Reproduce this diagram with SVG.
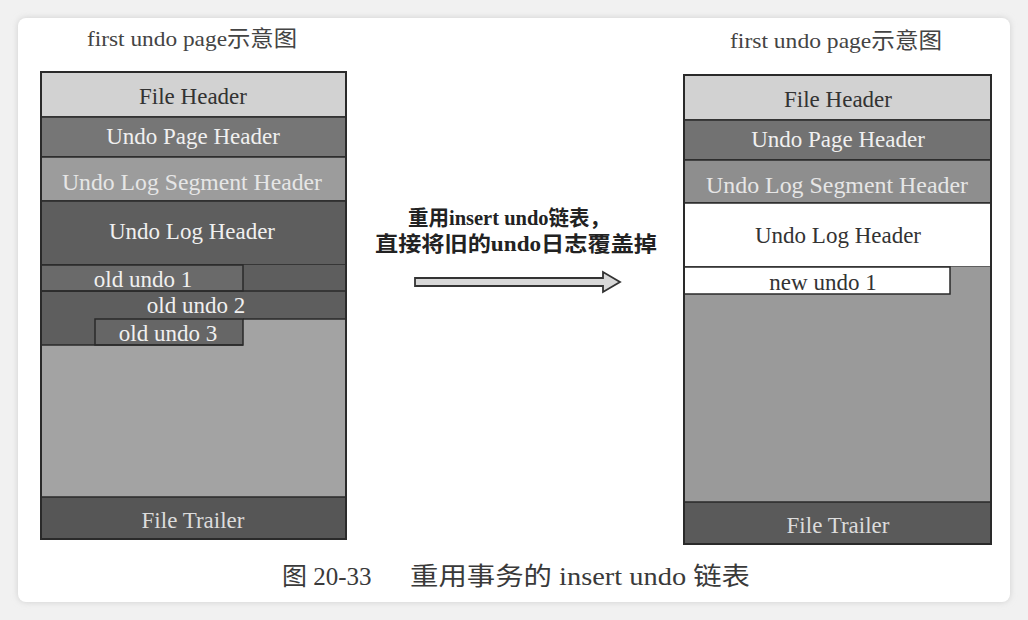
<svg xmlns="http://www.w3.org/2000/svg" width="1028" height="620" viewBox="0 0 1028 620">
<defs>
<filter id="sh" x="-5%" y="-5%" width="110%" height="110%"><feGaussianBlur stdDeviation="3"/></filter>
</defs>
<style>
.t{font-family:"Liberation Serif","Noto Sans CJK SC",serif;font-size:23px;text-anchor:middle}
.ttl{font-family:"Liberation Serif","Noto Sans CJK SC",serif;font-size:22px;fill:#444}
.cell{stroke:#2a2a2a;stroke-width:1.5}
.dk{fill:#333}.lt{fill:#f0f0f0}.wh{fill:#fff}
.mid{font-family:"Liberation Serif","Noto Sans CJK SC",serif;font-size:21px;font-weight:bold;fill:#222}
.cap{font-family:"Liberation Serif","Noto Sans CJK SC",serif;font-size:25px;fill:#3a3a3a}
</style>
<rect width="1028" height="620" fill="#f1f1f1"/>
<rect x="18" y="18" width="992" height="584" rx="8" fill="#cfcfcf" filter="url(#sh)"/>
<rect x="18" y="18" width="992" height="584" rx="8" fill="#ffffff"/>
<text class="ttl" x="87" y="46" textLength="210" lengthAdjust="spacingAndGlyphs">first undo page示意图</text>
<text class="ttl" x="730" y="48" textLength="212" lengthAdjust="spacingAndGlyphs">first undo page示意图</text>
<g id="left-page">
<rect class="cell" x="41" y="72" width="305" height="45" fill="#d2d2d2"/>
<text class="t dk" x="193" y="104">File Header</text>
<rect class="cell" x="41" y="117" width="305" height="40" fill="#767676"/>
<text class="t lt" x="193" y="144">Undo Page Header</text>
<rect class="cell" x="41" y="157" width="305" height="44" fill="#9c9c9c"/>
<text class="t" fill="#e6e6e6" x="192" y="190" textLength="260" lengthAdjust="spacingAndGlyphs">Undo Log Segment Header</text>
<rect class="cell" x="41" y="201" width="305" height="64" fill="#5e5e5e"/>
<text class="t lt" x="192" y="239">Undo Log Header</text>
<rect x="41" y="265" width="305" height="80" fill="#5e5e5e" stroke="none"/>
<rect x="243" y="319" width="103" height="26" fill="#a3a3a3"/>
<rect x="41" y="345" width="305" height="152" fill="#a3a3a3"/>
<rect class="cell" x="41" y="265" width="202" height="26" fill="#6a6a6a"/>
<text class="t lt" x="143" y="287">old undo 1</text>
<path class="cell" d="M41 291 H346 M243 319 H346" fill="none"/>
<text class="t lt" x="196" y="313">old undo 2</text>
<rect class="cell" x="95" y="319" width="148" height="26" fill="#666"/>
<text class="t lt" x="168" y="341">old undo 3</text>
<path class="cell" d="M41 345 H243" fill="none"/>
<rect class="cell" x="41" y="497" width="305" height="42" fill="#565656"/>
<text class="t" fill="#dcdcdc" x="193" y="528">File Trailer</text>
<rect x="41" y="72" width="305" height="467" fill="none" stroke="#2a2a2a" stroke-width="2"/>
</g>
<g id="right-page">
<rect class="cell" x="684" y="75" width="307" height="45" fill="#d2d2d2"/>
<text class="t dk" x="838" y="107">File Header</text>
<rect class="cell" x="684" y="120" width="307" height="40" fill="#727272"/>
<text class="t lt" x="838" y="147">Undo Page Header</text>
<rect class="cell" x="684" y="160" width="307" height="43" fill="#8e8e8e"/>
<text class="t" fill="#e6e6e6" x="837" y="193" textLength="262" lengthAdjust="spacingAndGlyphs">Undo Log Segment Header</text>
<rect class="cell" x="684" y="203" width="307" height="64" fill="#ffffff"/>
<text class="t dk" x="838" y="243">Undo Log Header</text>
<rect x="684" y="267" width="307" height="235" fill="#9a9a9a"/>
<rect class="cell" x="684" y="267" width="266" height="27" fill="#ffffff"/>
<text class="t dk" x="823" y="290">new undo 1</text>
<rect class="cell" x="684" y="502" width="307" height="42" fill="#5a5a5a"/>
<text class="t" fill="#dcdcdc" x="838" y="533">File Trailer</text>
<rect x="684" y="75" width="307" height="469" fill="none" stroke="#2a2a2a" stroke-width="2"/>
</g>
<g id="connectors">
<path d="M415 278 H603 V272 L620 282 L603 292 V286 H415 Z" fill="#d8d8d8" stroke="#333" stroke-width="1.8"/>
</g>
<text class="mid" x="408" y="225" textLength="202" lengthAdjust="spacingAndGlyphs">重用insert undo链表，</text>
<text class="mid" x="375" y="251" textLength="282" lengthAdjust="spacingAndGlyphs">直接将旧的undo日志覆盖掉</text>
<text class="cap" x="282" y="585">图 20-33</text>
<text class="cap" x="410" y="585" textLength="340" lengthAdjust="spacingAndGlyphs">重用事务的 insert undo 链表</text>
</svg>
